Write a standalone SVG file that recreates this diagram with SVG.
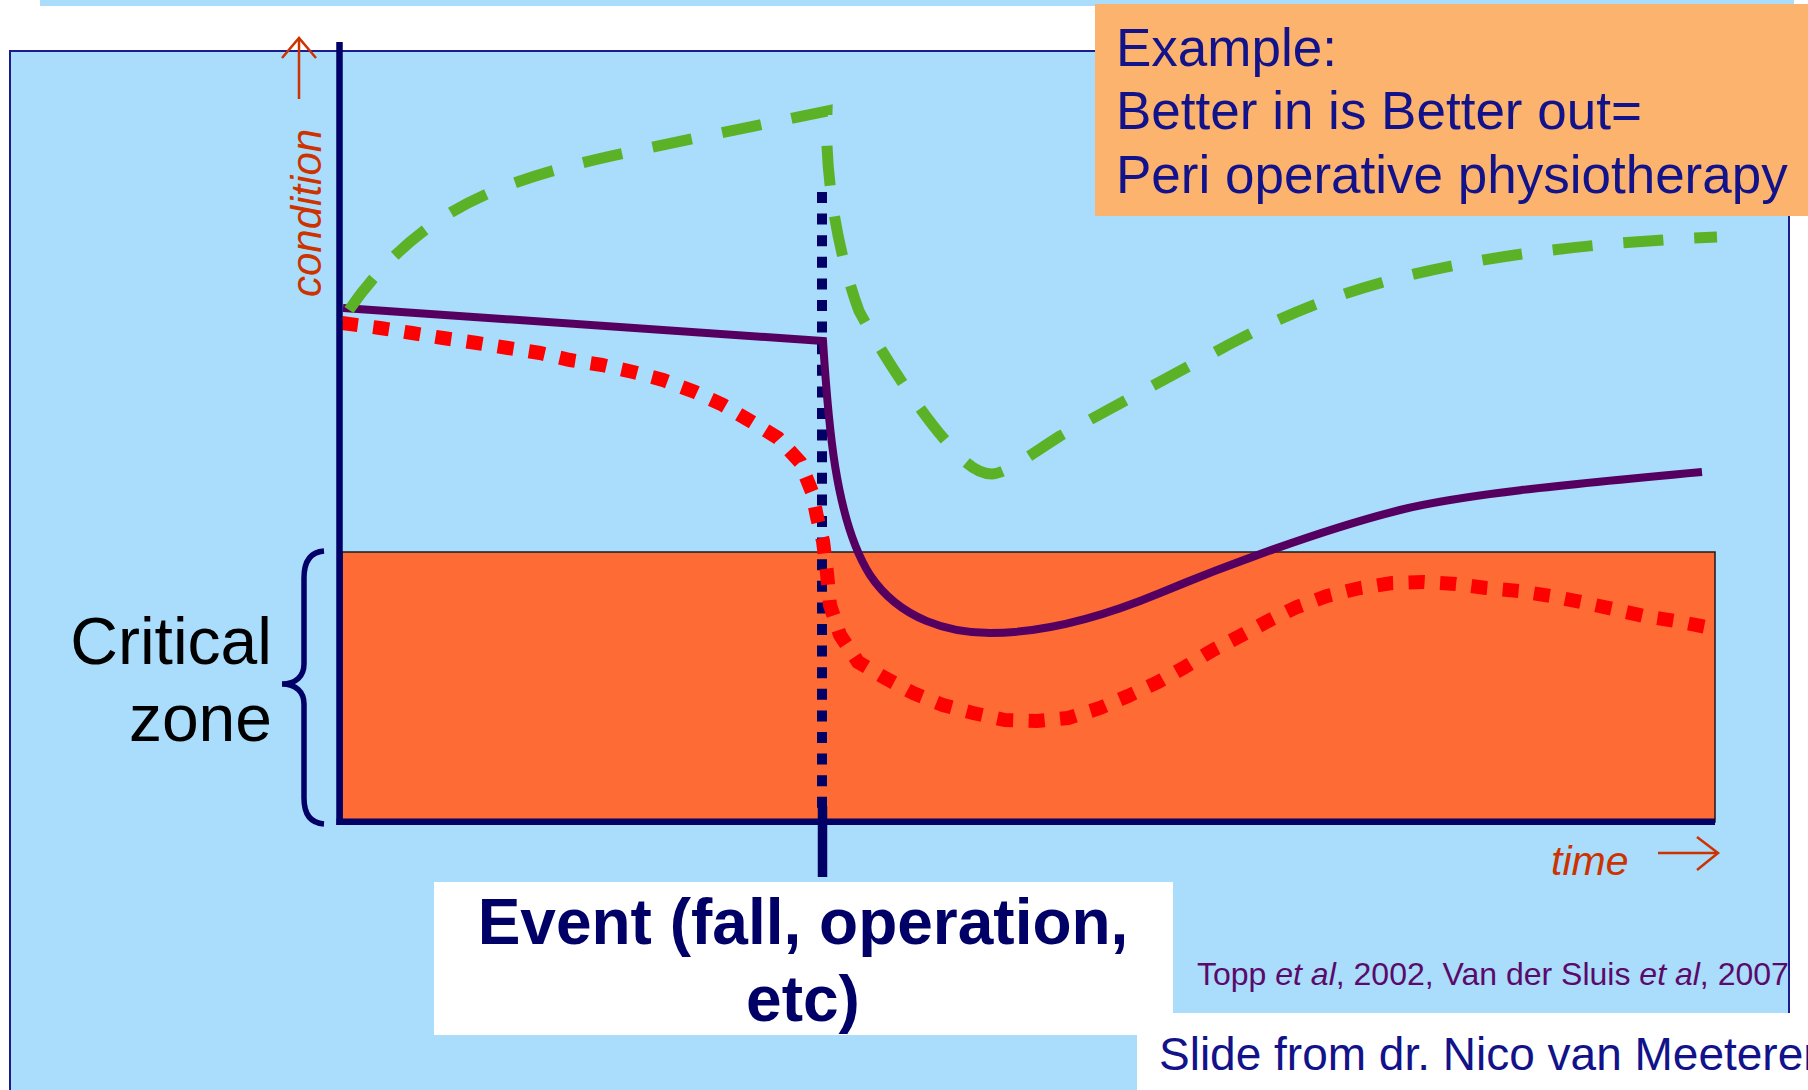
<svg xmlns="http://www.w3.org/2000/svg" width="1808" height="1090" viewBox="0 0 1808 1090">
<style>
.sans{font-family:"Liberation Sans",Arial,sans-serif}
.navytxt{fill:#12128A}
.orangeTxt{fill:#CC3300;font-style:italic}
.arrow{fill:none;stroke:#CC3300;stroke-width:2.5}
.axis{stroke:#000066;stroke-width:6.5;fill:none}
</style>
<rect x="0" y="0" width="1808" height="1090" fill="#FFFFFF"/>
<g id="frame">
<rect x="40" y="0" width="1754" height="6" fill="#AADCFB"/>
<rect x="10" y="51" width="1779" height="1060" fill="#AADCFB" stroke="#1C1C8C" stroke-width="2"/>
<rect x="1137" y="1013" width="671" height="77" fill="#FFFFFF"/>
</g>
<g id="critical-zone">
<rect x="342" y="552" width="1373" height="270" fill="#FF6B35" stroke="#1A1A1A" stroke-width="1.5"/>
</g>
<g id="connectors">
<line x1="822" y1="192" x2="822" y2="808" stroke="#000066" stroke-width="10" stroke-dasharray="11 10.6"/>
<line x1="822.5" y1="806" x2="822.5" y2="877" stroke="#000066" stroke-width="9.5"/>
<polyline fill="none" stroke="#FF0000" stroke-width="14" stroke-dasharray="16 15.5" points="342,323 380,328 412,333 443,338 477,343 508,348 540,353 570,360 602,365 633,372 663,380 695,392 723,405 752,422 778,438 800,462 812,492 817,517 823,541 827,573 830,605 840,635 858,662 885,678 913,693 943,705 973,713 1005,720 1037,721 1068,718 1100,708 1128,696 1158,682 1185,667 1213,650 1242,635 1270,620 1297,607 1327,596 1360,588 1392,583 1424,582 1456,584 1486,588 1519,591 1551,596 1581,602 1613,609 1644,616 1676,621 1706,627 1715,629"/>
<path fill="none" stroke="#550060" stroke-width="8" stroke-linejoin="miter" d="M343,308 L823,341 C828,420 835,520 870,575 C900,620 950,633 990,633 C1040,633 1100,618 1160,593 C1220,568 1320,530 1400,510 C1460,495 1560,485 1702,472"/>
<path fill="none" stroke="#5BB226" stroke-width="11" stroke-dasharray="40 31" d="M349,310 C375,272 410,237 450,213 C500,183 560,167 630,152 C700,137 760,125 827,111 C824,180 840,260 859,311 C880,350 915,405 945,440 C960,458 975,474 992,474 C1005,474 1030,455 1060,436 L1230,344 C1310,302 1420,250 1717,237"/>
</g>
<g id="axes">
<line class="axis" x1="339.5" y1="42" x2="339.5" y2="825"/>
<line class="axis" x1="336.5" y1="821.7" x2="1715" y2="821.7"/>
</g>
<g id="condition-label">
<line class="arrow" x1="299" y1="99" x2="299" y2="40"/>
<polyline class="arrow" points="282,58 299,38 316,58"/>
<text class="sans orangeTxt" font-size="42" transform="translate(321,297) rotate(-90)">condition</text>
</g>
<g id="time-label">
<text class="sans orangeTxt" x="1551" y="875" font-size="41">time</text>
<line class="arrow" x1="1658" y1="853" x2="1716" y2="853"/>
<polyline class="arrow" points="1697,837 1718,853 1697,870"/>
</g>
<g id="critical-label">
<path d="M324,551 C310,552 304,562 304,578 L304,664 C304,676 296,684 282,684 C296,684 304,692 304,704 L304,798 C304,814 310,823 324,824" fill="none" stroke="#000066" stroke-width="5.5"/>
<text class="sans" font-size="66" fill="#000000" text-anchor="end"><tspan x="272" y="664">Critical</tspan><tspan x="272" y="741">zone</tspan></text>
</g>
<g id="event-label">
<rect x="434" y="882" width="739" height="153" fill="#FFFFFF"/>
<text class="sans" font-size="64" font-weight="bold" fill="#000066" text-anchor="middle"><tspan x="803" y="944">Event (fall, operation,</tspan><tspan x="803" y="1021">etc)</tspan></text>
</g>
<g id="example-box">
<rect x="1095" y="4" width="713" height="212" fill="#FCB36E"/>
<text class="sans navytxt" font-size="53"><tspan x="1116" y="66">Example:</tspan><tspan x="1116" y="129">Better in is Better out=</tspan><tspan x="1116" y="193">Peri operative physiotherapy</tspan></text>
</g>
<g id="citation">
<text class="sans" x="1197" y="985" font-size="32" fill="#5A0A6A">Topp <tspan font-style="italic">et al</tspan>, 2002, Van der Sluis <tspan font-style="italic">et al</tspan>, 2007</text>
</g>
<g id="credit">
<text class="sans navytxt" x="1159" y="1070" font-size="46">Slide from dr. Nico van Meeteren</text>
</g>
</svg>
